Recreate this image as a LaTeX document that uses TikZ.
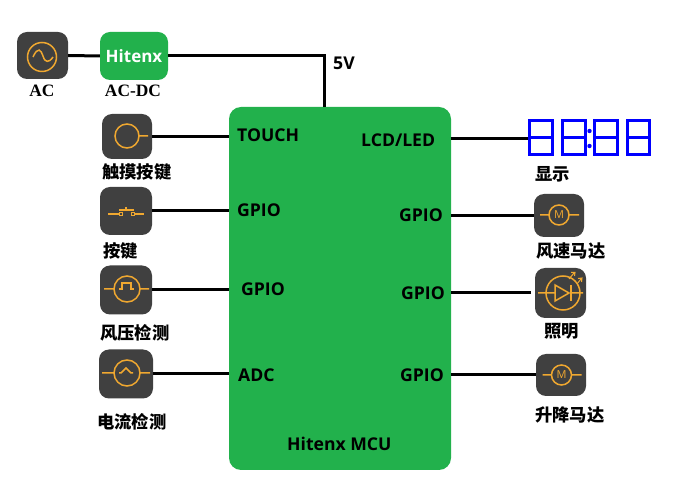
\documentclass[tikz,border=0pt]{standalone}
\usepackage{fontspec}
\setmainfont{Open Sans}
\newfontfamily\cjk{Noto Sans CJK SC}
\newfontfamily\serifb{Liberation Serif}
\definecolor{hgreen}{HTML}{22B14C}
\definecolor{hdark}{HTML}{404040}
\definecolor{horange}{HTML}{F0A830}
\definecolor{hblue}{HTML}{0000FF}
\tikzset{
  x=1pt,y=-1pt,
  iconbox/.style={fill=hdark,rounded corners=10pt,inner sep=0pt,minimum width=#1},
  glyph/.style={draw=horange,line width=1.5pt},
  wire/.style={draw=black,line width=3pt},
  pinlabel/.style={font=\fontsize{17.6}{20}\selectfont\bfseries,text=black,inner sep=0pt,anchor=west},
  cnlabel/.style={font=\fontsize{17.3}{20}\cjk\bfseries,text=black,inner sep=0pt,anchor=west},
  enlabel/.style={font=\fontsize{17.4}{20}\serifb\bfseries,text=black,inner sep=0pt},
  seg/.style={draw=hblue,line width=3pt}
}
\newcommand{\digitat}[1]{\draw[seg] (#1,121) rectangle (#1+22.5,155) (#1,138) -- (#1+22.5,138);}
\newcommand{\motorat}[2]{%
  \draw[glyph] (#1,#2) circle (10pt) (#1-19,#2) -- (#1-10,#2) (#1+10,#2) -- (#1+20,#2);
  \node[text=horange,inner sep=0pt,font=\fontsize{11}{11}\selectfont] at (#1,#2) {M};}
\begin{document}
\begin{tikzpicture}
\useasboundingbox[fill=white] (0,0) rectangle (691,502);
% MCU
\node[fill=hgreen,rounded corners=12pt,inner sep=0pt,minimum width=222pt,minimum height=363pt] (mcu) at (340,288.5) {};
% icon boxes
\node[iconbox=51pt,minimum height=47pt] (ac) at (42.5,55.5) {};
\node[fill=hgreen,rounded corners=10pt,inner sep=0pt,minimum width=68pt,minimum height=48pt,text=white,font=\fontsize{17}{20}\selectfont\bfseries] (dcdc) at (134,56) {Hitenx};
\node[iconbox=50pt,minimum height=45pt] (touch) at (127,136.5) {};
\node[iconbox=52pt,minimum height=48pt] (btn) at (126,211) {};
\node[iconbox=52pt,minimum height=49pt] (wind) at (126,290) {};
\node[iconbox=54pt,minimum height=49pt] (cur) at (126,374) {};
\node[iconbox=50pt,minimum height=43pt] (fan) at (559,215.5) {};
\node[iconbox=51pt,minimum height=50pt] (led) at (560.5,293) {};
\node[iconbox=50pt,minimum height=42pt] (lift) at (561,375) {};
\coordinate (disp) at (530,139);
\coordinate (ledend) at (531,293);
\coordinate (vtop) at (324,107);
% wires
\draw[wire] (ac.east) -- (dcdc.west);
\draw[wire] (dcdc.east) -| (vtop);
\draw[wire] (touch.east) -- (touch.east -| mcu.west);
\draw[wire] (btn.east) -- (btn.east -| mcu.west);
\draw[wire] (wind.east) -- (wind.east -| mcu.west);
\draw[wire] (cur.east) -- (cur.east -| mcu.west);
\draw[wire] (disp) -- (disp -| mcu.east);
\draw[wire] (fan.west) -- (fan.west -| mcu.east);
\draw[wire] (ledend) -- (ledend -| mcu.east);
\draw[wire] (lift.west) -- (lift.west -| mcu.east);
% AC glyph
\draw[glyph] (42,57) circle (14.5pt);
\draw[glyph] (33,57) .. controls (38,46) and (41,50) .. (43,56) .. controls (45,63) and (49,63) .. (53,57);
% touch glyph
\draw[glyph] (127,136) circle (12pt) (139,136) -- (148,136);
% button glyph
\draw[glyph] (108,214) -- (119,214) (135,214) -- (144,214) (119,210) -- (134,210) (126,207) -- (126,210);
\draw[glyph,line width=.8pt] (119.5,212.5) rectangle (122.5,215.5) (131.5,212.5) rectangle (134.5,215.5);
% wind glyph
\draw[glyph] (127,289) circle (13pt) (104,289) -- (114,289) (140,289) -- (149,289);
\draw[glyph] (119,289) -- (122,289) -- (122,283) -- (131,283) -- (131,289) -- (134,289);
% current glyph
\draw[glyph] (127,373) circle (13pt) (102,373) -- (114,373) (140,373) -- (150,373);
\draw[glyph] (119,373) -- (121,373) -- (126,368) -- (131,373) -- (133,373);
% motors
\motorat{559}{215}
\motorat{561.5}{375}
% LED glyph
\draw[glyph] (563,293) circle (17pt) (538,293) -- (555,293) (571,293) -- (583,293);
\draw[glyph] (555,285) -- (555,301) -- (569,293) -- cycle;
\draw[glyph] (571,285) -- (571,301);
\draw[glyph,line width=1pt] (569,279) -- (574,273) (571,272.5) -- (575,272.5) -- (574.5,276);
\draw[glyph,line width=1pt] (577,284) -- (581,279) (578,278.5) -- (582,278) -- (581.5,282);
% display
\digitat{529.5}
\digitat{562.5}
\digitat{594.5}
\digitat{627}
\fill[hblue] (589.5,131) circle (2.2pt) (589.5,146) circle (2.2pt);
% pin labels
\node[pinlabel] (ltouch) at (237,135) {TOUCH};
\node[pinlabel] (llcd) at (361,140) {LCD/LED};
\node[pinlabel] (lg1) at (237,210) {GPIO};
\node[pinlabel] (lg2) at (241,289) {GPIO};
\node[pinlabel] (ladc) at (238,375) {ADC};
\node[pinlabel] (rg1) at (399,215) {GPIO};
\node[pinlabel] (rg2) at (401,293) {GPIO};
\node[pinlabel] (rg3) at (400,375) {GPIO};
\node[pinlabel] (lmcu) at (287,444) {Hitenx MCU};
\node[pinlabel] (lfive) at (333,63) {5V};
% names
\node[enlabel] (tac) at (42,91) {AC};
\node[enlabel] (tdc) at (133,91) {AC-DC};
\node[cnlabel] (c1) at (102,172) {触摸按键};
\node[cnlabel] (c2) at (103,251) {按键};
\node[cnlabel] (c3) at (100,333) {风压检测};
\node[cnlabel] (c4) at (97,422) {电流检测};
\node[cnlabel] (c5) at (535,174) {显示};
\node[cnlabel] (c6) at (536,251) {风速马达};
\node[cnlabel] (c7) at (544,331) {照明};
\node[cnlabel] (c8) at (535,415) {升降马达};
\end{tikzpicture}
\end{document}
